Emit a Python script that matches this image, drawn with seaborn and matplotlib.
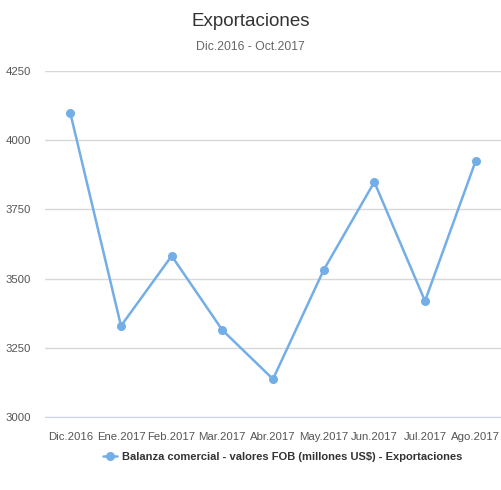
import matplotlib
matplotlib.use("Agg")
import matplotlib.pyplot as plt
import seaborn as sns
import pandas as pd
from matplotlib.ticker import FixedLocator

months = ['Dic.2016', 'Ene.2017', 'Feb.2017', 'Mar.2017', 'Abr.2017',
          'May.2017', 'Jun.2017', 'Jul.2017', 'Ago.2017']
exportaciones = [4098, 3329, 3582, 3314, 3137, 3531, 3849, 3419, 3925]
y_ticks = [3000, 3250, 3500, 3750, 4000, 4250]

sns.set_style('white')
plt.rcParams['font.family'] = ['Liberation Sans', 'DejaVu Sans']

df = pd.DataFrame({'mes': months, 'valor': exportaciones})
df['pos'] = range(len(months))

fig = plt.figure(figsize=(5.01, 4.9), dpi=100)
ax = fig.add_axes([45 / 501, 1 - 417 / 490, 1 - 45 / 501, (417 - 71) / 490])

color = '#74aee6'
sns.lineplot(data=df, x='pos', y='valor', ax=ax, color=color, linewidth=1.8,
             marker='o', markersize=6.5, markeredgewidth=0,
             label='Balanza comercial - valores FOB (millones US$) - Exportaciones')

ax.set_xlim(-0.5, len(months) - 0.5)
ax.set_ylim(3000, 4250)
ax.set_yticks(y_ticks)
ax.set_xticks(range(len(months)))
ax.set_xticklabels(months)
ax.xaxis.set_minor_locator(FixedLocator([i - 0.5 for i in range(len(months) + 1)]))
ax.tick_params(axis='x', which='major', length=0, pad=11, labelsize=8.2, colors='#555555')
ax.tick_params(axis='x', which='minor', length=10, color='#ccd6eb', width=0.8)
ax.tick_params(axis='y', length=0, pad=10, labelsize=8.2, colors='#555555')
ax.set_xlabel('')
ax.set_ylabel('')

ax.grid(axis='y', color='#d8d8d8', linewidth=1)
ax.set_axisbelow(True)
for side in ['top', 'right', 'left']:
    ax.spines[side].set_visible(False)
ax.spines['bottom'].set_color('#ccd6eb')

fig.text(0.5, 1 - 22 / 490, 'Exportaciones', ha='center', va='center',
         fontsize=13.5, color='#333333')
fig.text(0.5, 1 - 47 / 490, 'Dic.2016 - Oct.2017', ha='center', va='center',
         fontsize=8.8, color='#666666')

ax.get_legend().remove()
handles, labels = ax.get_legend_handles_labels()
leg = fig.legend(handles, labels, loc='center', bbox_to_anchor=(0.565, 1 - 457 / 490),
                 frameon=False, handlelength=1.2, handletextpad=0.5,
                 prop={'weight': 'bold', 'size': 8})
for t in leg.get_texts():
    t.set_color('#333333')

plt.savefig('out.png', dpi=100)
plt.close()
